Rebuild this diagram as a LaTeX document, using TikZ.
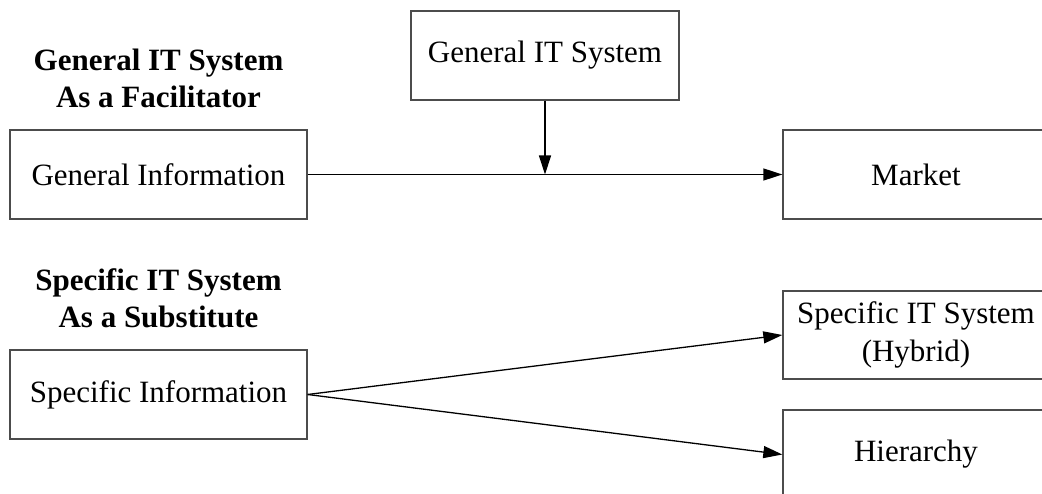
\documentclass[tikz,border=0pt]{standalone}
\usepackage{fontspec}
\setmainfont{Liberation Serif}
\usetikzlibrary{arrows.meta}
\begin{document}
\begin{tikzpicture}[x=1pt,y=-1pt,
  box/.style={draw=black!70,line width=1.3pt,inner sep=0pt,align=center,
    font=\fontsize{31}{38}\selectfont},
  title/.style={inner sep=0pt,align=center,font=\fontsize{31}{37}\selectfont\bfseries},
  conn/.style={line width=1.3pt,-{Triangle[length=19pt,width=12pt]}}]
\useasboundingbox (0,0) rectangle (1042,494);
\node[title] (t1) at (158.5,78) {General IT System\\As a Facilitator};
\node[title] (t2) at (158.5,298) {Specific IT System\\As a Substitute};
\node[box,minimum width=297pt,minimum height=89pt] (gi) at (158.5,174.5) {General Information};
\node[box,minimum width=268pt,minimum height=89pt] (gis) at (545,55.5) {General IT System};
\node[box,minimum width=266pt,minimum height=89pt] (mk) at (916,174.5) {Market};
\node[box,minimum width=297pt,minimum height=89pt] (si) at (158.5,394.5) {Specific Information};
\node[box,minimum width=266pt,minimum height=88pt] (hy) at (916,335) {Specific IT System\\(Hybrid)};
\node[box,minimum width=266pt,minimum height=89pt] (hi) at (916,454.5) {Hierarchy};
\coordinate (mid) at (gis.south |- gi.east);
\draw[conn] (gi.east) -- (mk.west);
\draw[conn] (gis.south) -- (mid);
\draw[conn] (si.east) -- (hy.west);
\draw[conn] (si.east) -- (hi.west);
\end{tikzpicture}
\end{document}
